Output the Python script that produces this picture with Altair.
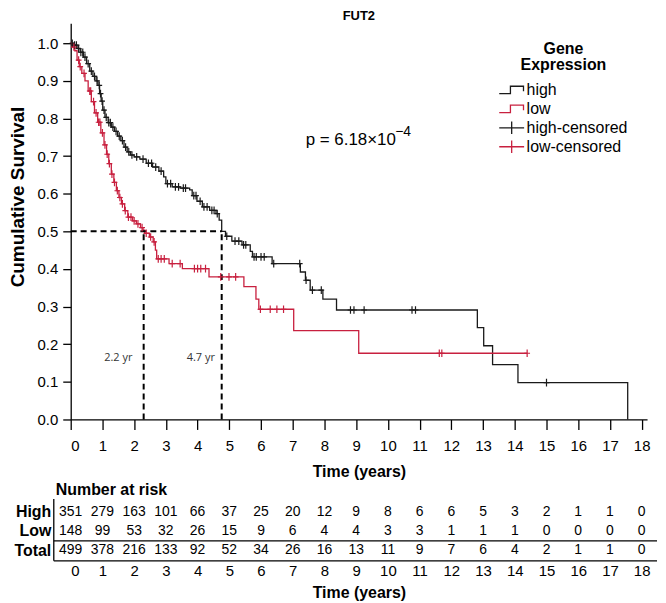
import altair as alt
import pandas as pd

# ---------------- data ----------------
high_t = [0, 0.1, 0.2, 0.3, 0.4, 0.5, 0.6, 0.7, 0.8, 0.86, 0.91, 0.96, 1.01, 1.08, 1.18, 1.28, 1.38,
          1.48, 1.58, 1.68, 1.78, 1.88, 2.0, 2.18, 2.38, 2.58, 2.78, 2.93, 3.0, 3.2, 3.45, 3.75, 3.83,
          3.98, 4.15, 4.38, 4.58, 4.68, 4.76, 4.88, 5.08, 5.4, 5.66, 5.73, 6.35, 7.24, 7.4, 7.55, 7.95,
          8.38, 12.82, 13.02, 13.3, 14.1, 17.56]
high_s = [1.0, 0.995, 0.986, 0.976, 0.963, 0.946, 0.926, 0.912, 0.9, 0.888, 0.866, 0.846, 0.822, 0.803,
          0.789, 0.777, 0.766, 0.753, 0.741, 0.724, 0.711, 0.703, 0.698, 0.692, 0.681, 0.671, 0.66, 0.645,
          0.627, 0.618, 0.615, 0.61, 0.595, 0.58, 0.565, 0.556, 0.547, 0.53, 0.5, 0.487, 0.474, 0.464,
          0.447, 0.432, 0.414, 0.392, 0.37, 0.344, 0.32, 0.291, 0.244, 0.196, 0.146, 0.098, 0.0]

low_t = [0, 0.05, 0.13, 0.2, 0.27, 0.35, 0.45, 0.55, 0.65, 0.75, 0.85, 0.95, 1.05, 1.13, 1.2, 1.28, 1.36,
         1.44, 1.52, 1.6, 1.7, 1.8, 1.95, 2.07, 2.2, 2.28, 2.33, 2.48, 2.6, 2.67, 2.71, 3.1, 3.52, 4.36,
         5.46, 5.84, 5.93, 7.03, 9.08, 14.39]
low_s = [1.0, 0.99, 0.98, 0.955, 0.938, 0.92, 0.9, 0.873, 0.845, 0.815, 0.79, 0.762, 0.73, 0.705, 0.68,
         0.652, 0.63, 0.608, 0.59, 0.573, 0.555, 0.538, 0.528, 0.52, 0.51, 0.503, 0.495, 0.485, 0.472,
         0.45, 0.427, 0.414, 0.401, 0.379, 0.353, 0.32, 0.293, 0.236, 0.176, 0.176]

high_cens_t = [0.05, 0.12, 0.18, 0.25, 0.32, 0.38, 0.45, 0.55, 0.65, 0.75, 0.83, 0.9, 0.94, 0.99, 1.05,
               1.12, 1.2, 1.25, 1.33, 1.43, 1.53, 1.63, 1.73, 1.83, 1.93, 2.08, 2.28, 2.45, 2.55, 2.68,
               2.85, 3.05, 3.15, 3.3, 3.4, 3.55, 3.62, 3.88, 3.95, 4.08, 4.2, 4.3, 4.45, 4.52, 4.62,
               4.92, 5.18, 5.3, 5.45, 5.52, 5.78, 5.85, 6.0, 6.1, 6.4, 7.22, 7.42, 7.62, 7.9, 8.82,
               8.93, 9.25, 10.76, 10.87, 15.0]
high_cens_s = [1.0, 0.995, 0.995, 0.986, 0.976, 0.976, 0.963, 0.946, 0.926, 0.912, 0.9, 0.888, 0.866,
               0.846, 0.822, 0.803, 0.789, 0.789, 0.777, 0.766, 0.753, 0.741, 0.724, 0.711, 0.703,
               0.698, 0.692, 0.681, 0.681, 0.671, 0.66, 0.627, 0.627, 0.618, 0.618, 0.615, 0.615,
               0.595, 0.595, 0.58, 0.565, 0.565, 0.556, 0.556, 0.547, 0.487, 0.474, 0.474, 0.464,
               0.464, 0.432, 0.432, 0.432, 0.432, 0.414, 0.414, 0.37, 0.344, 0.344, 0.291, 0.291,
               0.291, 0.291, 0.291, 0.098]

low_cens_t = [0.1, 0.25, 0.3, 0.42, 0.6, 0.63, 0.72, 0.8, 0.88, 0.92, 1.0, 1.08, 1.15, 1.22, 1.3, 1.38,
              1.47, 1.55, 1.63, 1.72, 1.82, 1.9, 2.0, 2.12, 2.25, 2.38, 2.52, 2.63, 2.76, 2.85, 2.95,
              3.2, 3.45, 3.9, 4.0, 4.1, 4.25, 4.73, 4.99, 5.2, 5.98, 6.29, 6.5, 6.71, 11.62, 11.7, 14.39]
low_cens_s = [0.99, 0.955, 0.938, 0.92, 0.873, 0.873, 0.845, 0.815, 0.79, 0.79, 0.762, 0.73, 0.705,
              0.68, 0.652, 0.63, 0.608, 0.59, 0.573, 0.555, 0.538, 0.538, 0.528, 0.52, 0.51, 0.495,
              0.485, 0.472, 0.427, 0.427, 0.427, 0.414, 0.414, 0.401, 0.401, 0.401, 0.401, 0.379,
              0.379, 0.379, 0.293, 0.293, 0.293, 0.293, 0.176, 0.176, 0.176]

median_t = [2.3, 4.76]
median_level = [0.5]
median_label_text = ["2.2 yr", "4.7 yr"]
median_label_t = [1.5, 4.1]
median_label_s = [0.164, 0.164]

legend_labels = ["high", "low", "high-censored", "low-censored"]
p_text = "p = 6.18×10"
p_exp = "−4"

years = list(range(19))
y_ticks = [0.0, 0.1, 0.2, 0.3, 0.4, 0.5, 0.6, 0.7, 0.8, 0.9, 1.0]
risk_rows = ["High", "Low", "Total"]
risk_high = [351, 279, 163, 101, 66, 37, 25, 20, 12, 9, 8, 6, 6, 5, 3, 2, 1, 1, 0]
risk_low = [148, 99, 53, 32, 26, 15, 9, 6, 4, 4, 3, 3, 1, 1, 1, 0, 0, 0, 0]
risk_total = [499, 378, 216, 133, 92, 52, 34, 26, 16, 13, 11, 9, 7, 6, 4, 2, 1, 1, 0]

# ---------------- styling ----------------
BLACK = "#1a1a1a"
RED = "#c8203f"
FONT = "Liberation Sans"
W, H = 579, 398
XDOM = [0, 18.17]
YDOM = [0, 1.053]

xs = alt.Scale(domain=XDOM, nice=False, zero=False)
ys = alt.Scale(domain=YDOM, nice=False)
STEP_PATH = "M-1,0.3H-0.1V-0.3H0.95V0.1"
LCROSS_PATH = "M-1,0H1M0,-0.5V0.5"
CROSS_PATH = "M0,-1V1M-0.75,0H0.75"

X_AXIS = alt.Axis(values=years, tickSize=10, labelPadding=9, labelFontSize=15,
                  title="Time (years)", titleFontSize=16, titleFontWeight="bold",
                  titlePadding=10, grid=False)
Y_AXIS = alt.Axis(values=y_ticks, format=".1f", tickSize=8, labelPadding=5, labelFontSize=15,
                  title="Cumulative Survival", titleFontSize=19, titleFontWeight="bold",
                  titlePadding=10, titleY=174, grid=False)

one = pd.DataFrame({"k": [0]})


def xq(field="t"):
    return alt.X(f"{field}:Q", scale=xs, axis=X_AXIS)


def yq(field="s"):
    return alt.Y(f"{field}:Q", scale=ys, axis=Y_AXIS)


df_high = pd.DataFrame({"t": high_t, "s": high_s})
df_low = pd.DataFrame({"t": low_t, "s": low_s})
df_hc = pd.DataFrame({"t": high_cens_t, "s": high_cens_s})
df_lc = pd.DataFrame({"t": low_cens_t, "s": low_cens_s})
df_med = pd.DataFrame({"t": median_t, "s0": [0] * len(median_t), "s1": median_level * len(median_t)})
df_hline = pd.DataFrame({"t0": [0], "t1": [max(median_t)], "s": median_level})
df_mlab = pd.DataFrame({"t": median_label_t, "s": median_label_s, "label": median_label_text})

high_line = alt.Chart(df_high).mark_line(interpolate="step-after", color=BLACK, strokeWidth=1.3).encode(
    x=xq(), y=yq())
low_line = alt.Chart(df_low).mark_line(interpolate="step-after", color=RED, strokeWidth=1.3).encode(
    x=xq(), y=yq())
high_cens = alt.Chart(df_hc).mark_point(shape=CROSS_PATH, size=60, filled=False, color=BLACK,
                                        strokeWidth=1.2, opacity=1).encode(x=xq(), y=yq())
low_cens = alt.Chart(df_lc).mark_point(shape=CROSS_PATH, size=60, filled=False, color=RED,
                                       strokeWidth=1.2, opacity=1).encode(x=xq(), y=yq())
med_v = alt.Chart(df_med).mark_rule(color="black", strokeWidth=2, strokeDash=[6, 4]).encode(
    x=xq(), y=yq("s0"), y2="s1:Q")
med_h = alt.Chart(df_hline).mark_rule(color="black", strokeWidth=2, strokeDash=[6, 4]).encode(
    x=xq("t0"), x2="t1:Q", y=yq())
med_lab = alt.Chart(df_mlab).mark_text(font="Open Sans", fontSize=11, color="#333333").encode(
    x=xq(), y=yq(), text="label:N")

# p-value annotation
p_main = alt.Chart(one).mark_text(text=p_text, align="left", baseline="middle", fontSize=17,
                                  font=FONT, color="black").encode(x=alt.value(236), y=alt.value(117))
p_sup = alt.Chart(one).mark_text(text=p_exp, align="left", baseline="middle", fontSize=14,
                                 font=FONT, color="black").encode(x=alt.value(326), y=alt.value(109))

# legend (drawn by hand)
LX = 495
leg_layers = [
    alt.Chart(one).mark_text(text="Gene", align="center", baseline="middle", fontSize=16,
                             fontWeight="bold", font=FONT, color="black").encode(
        x=alt.value(LX), y=alt.value(26)),
    alt.Chart(one).mark_text(text="Expression", align="center", baseline="middle", fontSize=16,
                             fontWeight="bold", font=FONT, color="black").encode(
        x=alt.value(LX), y=alt.value(42)),
]
leg_shapes = [STEP_PATH, STEP_PATH, LCROSS_PATH, LCROSS_PATH]
leg_colors = [BLACK, RED, BLACK, RED]
for i, (lab, shp, col) in enumerate(zip(legend_labels, leg_shapes, leg_colors)):
    yy = 67 + 19 * i
    leg_layers.append(alt.Chart(one).mark_point(shape=shp, size=625, filled=False, color=col,
                                                strokeWidth=1.3, opacity=1).encode(
        x=alt.value(443), y=alt.value(yy)))
    leg_layers.append(alt.Chart(one).mark_text(text=lab, align="left", baseline="middle", fontSize=16,
                                               font=FONT, color="black").encode(
        x=alt.value(458), y=alt.value(yy)))

main = alt.layer(high_line, low_line, med_v, med_h, high_cens, low_cens, med_lab, p_main, p_sup,
                 *leg_layers).properties(
    width=W, height=H,
    title=alt.TitleParams("FUT2", anchor="middle", frame="group", fontSize=13, fontWeight="bold",
                          font=FONT, offset=0),
)

# ---------------- number-at-risk table ----------------
risk_df = pd.DataFrame({
    "t": years * 3,
    "row": [risk_rows[0]] * len(years) + [risk_rows[1]] * len(years) + [risk_rows[2]] * len(years),
    "n": risk_high + risk_low + risk_total,
})
TH = 58
table_text = alt.Chart(risk_df).mark_text(fontSize=14, font=FONT, color="black", baseline="middle").encode(
    x=alt.X("t:Q", scale=xs, axis=alt.Axis(values=years, ticks=False, domain=False, labelPadding=4,
                                         labelFontSize=15, title="Time (years)", titleFontSize=16,
                                         titleFontWeight="bold", titlePadding=6, grid=False)),
    y=alt.Y("row:N", scale=alt.Scale(type="point", domain=risk_rows, padding=0.5),
            axis=alt.Axis(title=None, ticks=False, domain=False, labelFontWeight="bold",
                          labelFontSize=16, labelPadding=20, grid=False)),
    text="n:Q",
)
rule_v = alt.Chart(one).mark_rule(color="black", strokeWidth=1.3).encode(
    x=alt.value(-17), y=alt.value(-3), y2=alt.value(TH + 1))
rule_mid = alt.Chart(one).mark_rule(color="black", strokeWidth=1.3).encode(
    x=alt.value(-17), x2=alt.value(W + 10), y=alt.value(39))
rule_bot = alt.Chart(one).mark_rule(color="black", strokeWidth=1.3).encode(
    x=alt.value(-17), x2=alt.value(W + 10), y=alt.value(TH + 1))

table = alt.layer(table_text, rule_v, rule_mid, rule_bot).properties(
    width=W, height=TH,
    title=alt.TitleParams("Number at risk", anchor="start", frame="group", fontSize=16,
                          fontWeight="bold", font=FONT, dx=-15, offset=0),
)

chart = alt.vconcat(main, table, spacing=3).properties(
    padding={"left": 0, "top": 1, "right": 0, "bottom": 0}
).configure_axis(
    labelFont=FONT, titleFont=FONT, domainColor="black", tickColor="black", labelColor="black",
    titleColor="black", domainWidth=1.3, tickWidth=1.3,
).configure_view(strokeWidth=0).configure_title(font=FONT, color="black")

chart.save("out.html", embed_options={"renderer": "svg", "actions": False})
